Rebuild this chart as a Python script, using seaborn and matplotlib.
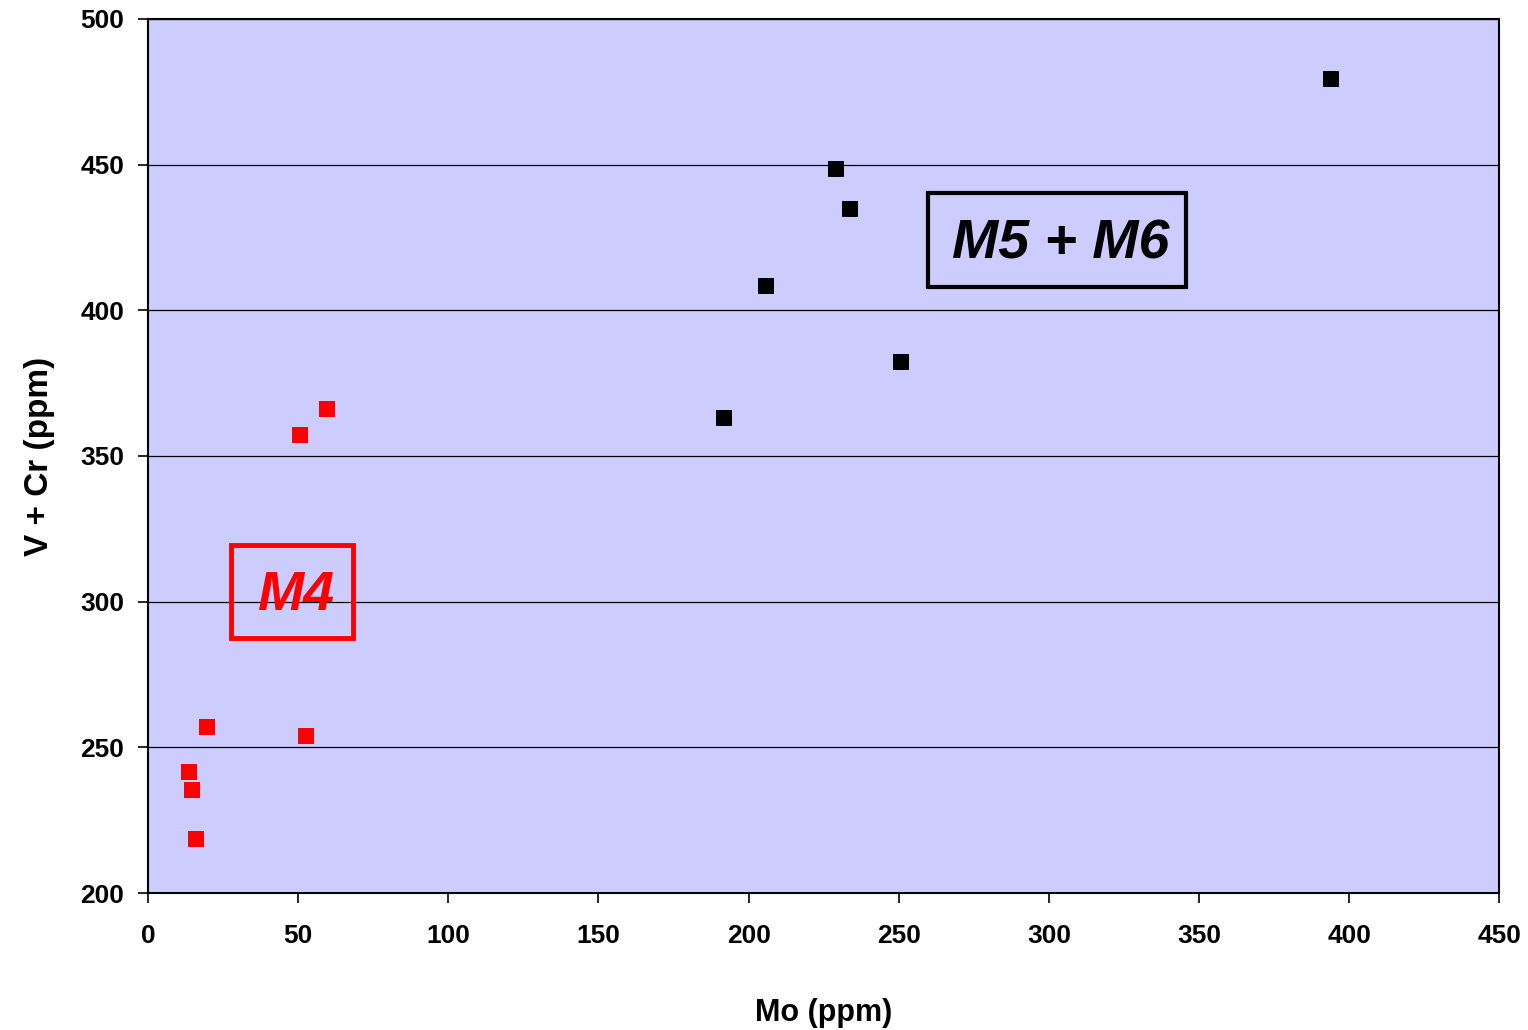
import matplotlib
matplotlib.use("Agg")
import matplotlib.pyplot as plt
from matplotlib.ticker import MultipleLocator
from matplotlib.patches import Rectangle
import matplotlib.font_manager as fm
import seaborn as sns
import pandas as pd

# Data
m4_mo = [13.7, 14.7, 16.0, 19.7, 50.6, 59.6, 52.6]
m4_vcr = [241.5, 235.3, 218.5, 257.0, 357.2, 366.1, 253.9]
m56_mo = [191.9, 205.9, 229.2, 233.8, 250.8, 394.0]
m56_vcr = [363.0, 408.3, 448.5, 434.8, 382.3, 479.4]
x_ticks = [0, 50, 100, 150, 200, 250, 300, 350, 400, 450]
y_ticks = [200, 250, 300, 350, 400, 450, 500]

df = pd.DataFrame({
    "Mo": m4_mo + m56_mo,
    "VCr": m4_vcr + m56_vcr,
    "group": ["M4"] * len(m4_mo) + ["M5 + M6"] * len(m56_mo),
})

sns.set_style("white")
names = {f.name for f in fm.fontManager.ttflist}
narrow = ["Liberation Sans Narrow", "Liberation Sans", "DejaVu Sans"] if "Liberation Sans Narrow" in names else ["Liberation Sans", "DejaVu Sans"]
regular = ["Liberation Sans", "DejaVu Sans"]
plt.rcParams["font.family"] = narrow
plt.rcParams["text.color"] = "black"
plt.rcParams["xtick.color"] = "black"
plt.rcParams["ytick.color"] = "black"
plt.rcParams["axes.labelcolor"] = "black"

fig = plt.figure(figsize=(15.28, 10.30), dpi=100)
ax = fig.add_axes([0.0969, 0.133, 0.8843, 0.8486])
ax.set_facecolor("#CCCCFF")

sns.scatterplot(data=df, x="Mo", y="VCr", hue="group",
                palette={"M4": "#FF0000", "M5 + M6": "#000000"},
                marker="s", s=135, edgecolor="none", legend=False, ax=ax, zorder=3)

ax.set_xlim(0, 450)
ax.set_ylim(200, 500)
ax.set_xticks(x_ticks)
ax.set_yticks(y_ticks)
ax.xaxis.set_minor_locator(MultipleLocator(10))
ax.yaxis.set_minor_locator(MultipleLocator(10))
ax.yaxis.grid(True, which="major", color="black", linewidth=0.9)
ax.xaxis.grid(False)
ax.set_axisbelow(True)

for sp in ax.spines.values():
    sp.set_color("black")
    sp.set_linewidth(1.5)

ax.tick_params(axis="both", which="both", direction="out", color="black", width=1.2)
ax.tick_params(axis="both", which="major", length=7, labelsize=19, labelcolor="black")
ax.tick_params(axis="both", which="minor", length=5)
ax.tick_params(axis="x", which="major", pad=15, bottom=True)
ax.tick_params(axis="y", which="major", pad=10, left=True)
for lbl in ax.get_xticklabels() + ax.get_yticklabels():
    lbl.set_fontweight("bold")

ax.set_xlabel("Mo (ppm)", fontsize=22, fontweight="bold", labelpad=36, color="black")
ax.set_ylabel("V + Cr (ppm)", fontsize=24, fontweight="bold", labelpad=18,
              family=regular, color="black")

# Annotation boxes
ax.text(49.0, 302.0, "M4", color="#FF0000", fontsize=40, fontweight="bold",
        fontstyle="italic", ha="center", va="center", family=regular, zorder=4)
ax.add_patch(Rectangle((27.5, 287.5), 40.9, 31.9, fill=False, edgecolor="#FF0000",
                       linewidth=3.5, zorder=4))
ax.text(303.8, 422.5, "M5 + M6", color="black", fontsize=40, fontweight="bold",
        fontstyle="italic", ha="center", va="center", family=regular, zorder=4)
ax.add_patch(Rectangle((259.8, 408.0), 86.0, 32.3, fill=False, edgecolor="black",
                       linewidth=3, zorder=4))

fig.savefig("out.png", dpi=100)
